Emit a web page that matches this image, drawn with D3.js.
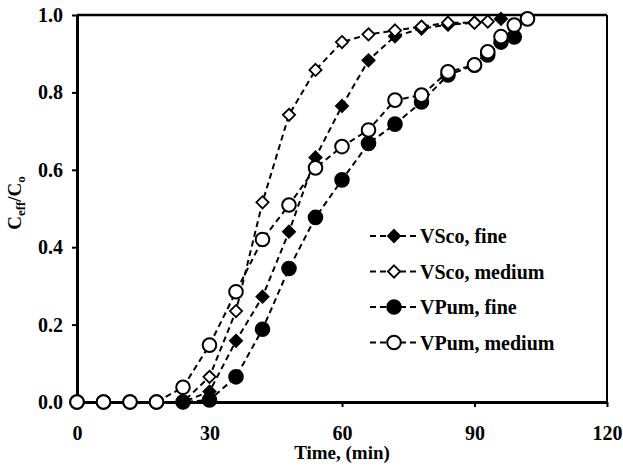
<!DOCTYPE html>
<html>
<head>
<meta charset="utf-8">
<script src="https://cdn.jsdelivr.net/npm/d3@7"></script>
<style>
  body { margin: 0; background: #fff; }
  text { font-family: "Liberation Serif", "Times New Roman", serif; font-weight: bold; }
</style>
</head>
<body>
<div id="chart"></div>
<script>
// data
const vscoFineTime = [0, 6, 12, 18, 24, 30, 36, 42, 48, 54, 60, 66, 72, 78, 84, 90, 96];
const vscoFine = [0, 0, 0, 0, 0, 0.027, 0.158, 0.272, 0.44, 0.632, 0.765, 0.883, 0.945, 0.965, 0.975, 0.98, 0.99];

const vscoMedTime = [0, 6, 12, 18, 24, 30, 36, 42, 48, 54, 60, 66, 72, 78, 84, 90, 93];
const vscoMed = [0, 0, 0, 0, 0, 0.065, 0.235, 0.516, 0.742, 0.858, 0.93, 0.95, 0.96, 0.97, 0.98, 0.98, 0.983];

const vpumFineTime = [0, 6, 12, 18, 24, 30, 36, 42, 48, 54, 60, 66, 72, 78, 84, 90, 93, 96, 99];
const vpumFine = [0, 0, 0, 0, 0, 0.005, 0.065, 0.188, 0.345, 0.477, 0.574, 0.668, 0.718, 0.775, 0.845, 0.87, 0.897, 0.93, 0.943];

const vpumMedTime = [0, 6, 12, 18, 24, 30, 36, 42, 48, 54, 60, 66, 72, 78, 84, 90, 93, 96, 99, 102];
const vpumMed = [0, 0, 0, 0, 0.038, 0.147, 0.285, 0.42, 0.509, 0.605, 0.66, 0.703, 0.78, 0.793, 0.853, 0.871, 0.905, 0.944, 0.974, 0.99];

const seriesNames = ["VSco, fine", "VSco, medium", "VPum, fine", "VPum, medium"];
const xTicks = [0, 30, 60, 90, 120];
const yTicks = [0, 0.2, 0.4, 0.6, 0.8, 1.0];

const W = 623, H = 469;
const margin = { top: 15, right: 16, bottom: 67, left: 77 };

const svg = d3.select("#chart").append("svg")
  .attr("width", W)
  .attr("height", H);

const x = d3.scaleLinear().domain([0, 120]).range([margin.left, W - margin.right]);
const y = d3.scaleLinear().domain([0, 1]).range([H - margin.bottom, margin.top]);

// frame: thin top/right, thick left/bottom
svg.append("line").attr("x1", x(0)).attr("x2", x(120)).attr("y1", y(1)).attr("y2", y(1))
  .attr("stroke", "#000").attr("stroke-width", 2.5);
svg.append("line").attr("x1", x(120)).attr("x2", x(120)).attr("y1", y(0)).attr("y2", y(1))
  .attr("stroke", "#000").attr("stroke-width", 2);

const xAxis = svg.append("g")
  .attr("transform", `translate(0,${y(0)})`)
  .call(d3.axisBottom(x).tickValues(xTicks).tickSize(5).tickPadding(19).tickSizeOuter(0));
const yAxis = svg.append("g")
  .attr("transform", `translate(${x(0)},0)`)
  .call(d3.axisLeft(y).tickValues(yTicks).tickFormat(d3.format(".1f")).tickSize(5).tickPadding(9).tickSizeOuter(0));

[xAxis, yAxis].forEach(g => {
  g.select(".domain").attr("stroke-width", 3);
  g.selectAll(".tick line").attr("stroke-width", 2);
  g.selectAll(".tick text").attr("font-size", 20).attr("fill", "#000")
    .style("font-family", "Liberation Serif").style("font-weight", "bold");
});

// axis titles
svg.append("text")
  .attr("x", x(60)).attr("y", 459)
  .attr("text-anchor", "middle").attr("font-size", 19)
  .text("Time, (min)");

const yt = svg.append("text")
  .attr("transform", `translate(21,203) rotate(-90)`)
  .attr("text-anchor", "middle").attr("font-size", 19);
yt.append("tspan").text("C");
yt.append("tspan").attr("font-size", 13).attr("dy", 4).text("eff");
yt.append("tspan").attr("dy", -4).text("/C");
yt.append("tspan").attr("font-size", 13).attr("dy", 4).text("o");

// series
const series = [
  { name: seriesNames[0], t: vscoFineTime, v: vscoFine, shape: "diamond", fill: "#000" },
  { name: seriesNames[1], t: vscoMedTime, v: vscoMed, shape: "diamond", fill: "#fff" },
  { name: seriesNames[2], t: vpumFineTime, v: vpumFine, shape: "circle", fill: "#000" },
  { name: seriesNames[3], t: vpumMedTime, v: vpumMed, shape: "circle", fill: "#fff" }
];

const line = d3.line().x(d => x(d[0])).y(d => y(d[1]));

function drawMarker(g, shape, fill, cx, cy) {
  if (shape === "circle") {
    g.append("circle").attr("cx", cx).attr("cy", cy).attr("r", 6.8)
      .attr("fill", fill).attr("stroke", "#000").attr("stroke-width", 2);
  } else {
    g.append("path")
      .attr("d", d3.symbol().type(d3.symbolDiamond2).size(95)())
      .attr("transform", `translate(${cx},${cy})`)
      .attr("fill", fill).attr("stroke", "#000").attr("stroke-width", 1.8);
  }
}

series.forEach(s => {
  const pts = s.t.map((t, i) => [t, s.v[i]]);
  const g = svg.append("g");
  g.append("path").datum(pts).attr("d", line)
    .attr("fill", "none").attr("stroke", "#000").attr("stroke-width", 2)
    .attr("stroke-dasharray", "6,4");
  pts.forEach(p => drawMarker(g, s.shape, s.fill, x(p[0]), y(p[1])));
});

// legend
const legend = svg.append("g");
series.forEach((s, i) => {
  const ly = 236 + i * 35.5;
  legend.append("line").attr("x1", 370).attr("x2", 417).attr("y1", ly).attr("y2", ly)
    .attr("stroke", "#000").attr("stroke-width", 2).attr("stroke-dasharray", "6,4");
  drawMarker(legend, s.shape, s.fill, 394, ly);
  legend.append("text").attr("x", 420).attr("y", ly + 7).attr("font-size", 20).text(s.name);
});
</script>
</body>
</html>
